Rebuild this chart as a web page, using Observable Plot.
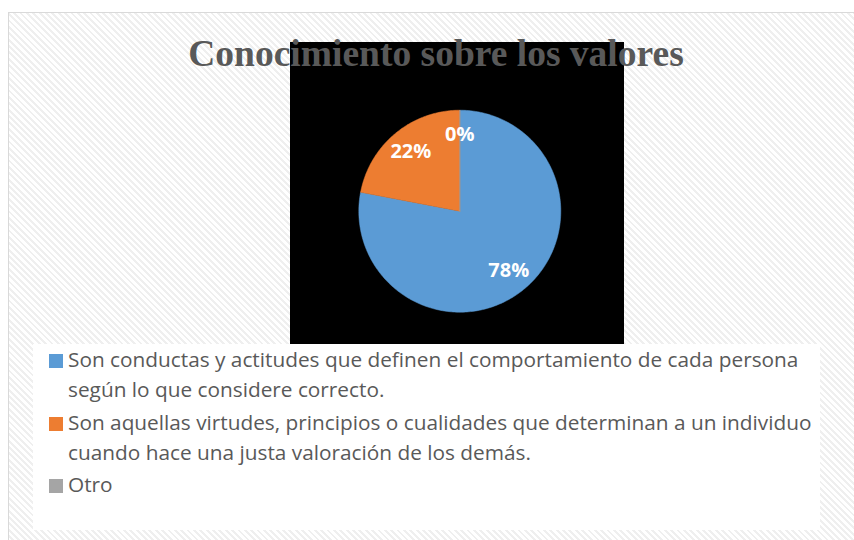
<!DOCTYPE html>
<html>
<head>
<meta charset="utf-8">
<script src="https://cdn.jsdelivr.net/npm/d3@7"></script>
<script src="https://cdn.jsdelivr.net/npm/@observablehq/plot@0.6"></script>
<style>
  html, body { margin: 0; padding: 0; background: #fff; }
  #wrap { position: relative; width: 854px; height: 540px; overflow: hidden; background: #fff; }
  #frame { position: absolute; left: 8px; top: 12px; width: 900px; height: 600px;
    border: 1px solid #d9d9d9; box-sizing: border-box;
    background: repeating-linear-gradient(45deg, #ffffff 0px, #ffffff 2.5px, #efefef 2.5px, #efefef 4.5px); }
  #legendbox { position: absolute; left: 33px; top: 344px; width: 787px; height: 186px; background: #fff; }
  #plot { position: absolute; left: 290px; top: 42px; }
  #title { position: absolute; left: 0; width: 872px; top: 31.5px; text-align: center;
    font-family: "Liberation Serif", "DejaVu Serif", serif; font-weight: bold; font-size: 37.5px;
    color: #595959; line-height: 44px; white-space: nowrap; z-index: 5; }
  .item { position: absolute; left: 49px; font-family: "Open Sans", sans-serif; font-size: 20.8px; color: #595959; }
  .item .sw { position: absolute; left: 0; top: 10px; width: 14px; height: 14px; }
  .item .tx { position: absolute; left: 19px; top: 0; white-space: nowrap; line-height: 30px; }
</style>
</head>
<body>
<div id="wrap">
  <div id="frame"></div>
  <div id="legendbox"></div>
  <div id="plot"></div>
  <div id="title"></div>
  <div id="legend"></div>
</div>
<script>
const title = "Conocimiento sobre los valores";
const categories = [
  "Son conductas y actitudes que definen el comportamiento de cada persona según lo que considere correcto.",
  "Son aquellas virtudes, principios o cualidades que determinan a un individuo cuando hace una justa valoración de los demás.",
  "Otro"
];
const legendLines = [
  ["Son conductas y actitudes que definen el comportamiento de cada persona", "según lo que considere correcto."],
  ["Son aquellas virtudes, principios o cualidades que determinan a un individuo", "cuando hace una justa valoración de los demás."],
  ["Otro"]
];
const values = [78, 22, 0];
const labels = ["78%", "22%", "0%"];
const colors = ["#5B9BD5", "#ED7D31", "#A5A5A5"];

document.getElementById("title").textContent = title;

// Build slice polygons in data space (unit circle), start at top, clockwise
const total = d3.sum(values);
const pts = [];
const labelData = [];
let acc = 0;
categories.forEach((c, i) => {
  const a0 = acc / total * 2 * Math.PI;
  acc += values[i];
  const a1 = acc / total * 2 * Math.PI;
  pts.push({cat: c, x: 0, y: 0});
  const n = Math.max(1, Math.ceil((a1 - a0) / (Math.PI / 180)));
  for (let k = 0; k <= n; k++) {
    const a = a0 + (a1 - a0) * k / n;
    pts.push({cat: c, x: Math.sin(a), y: Math.cos(a)});
  }
  pts.push({cat: c, x: 0, y: 0});
  const am = (a0 + a1) / 2;
  labelData.push({cat: c, text: labels[i], x: 0.76 * Math.sin(am), y: 0.76 * Math.cos(am)});
});

const chart = Plot.plot({
  width: 334,
  height: 302,
  margin: 0,
  style: {background: "#000", overflow: "visible"},
  x: {domain: [-1, 1], range: [68.3, 270.3], axis: null},
  y: {domain: [-1, 1], range: [269.7, 67.7], axis: null},
  color: {domain: categories, range: colors},
  marks: [
    Plot.line(pts, {x: "x", y: "y", z: "cat", fill: "cat", stroke: "cat", strokeWidth: 0.5}),
    Plot.text(labelData, {x: "x", y: "y", text: "text", fill: "#fff", fontWeight: "bold",
      fontSize: 20, fontFamily: "Open Sans, sans-serif"})
  ]
});
document.getElementById("plot").appendChild(chart);

// Legend
const tops = [344, 407, 469];
const legend = document.getElementById("legend");
legendLines.forEach((lines, i) => {
  const it = document.createElement("div");
  it.className = "item";
  it.style.top = tops[i] + "px";
  const sw = document.createElement("div");
  sw.className = "sw";
  sw.style.background = colors[i];
  const tx = document.createElement("div");
  tx.className = "tx";
  tx.innerHTML = lines.map(l => l.replace(/&/g, "&amp;")).join("<br>");
  it.appendChild(sw);
  it.appendChild(tx);
  legend.appendChild(it);
});
</script>
</body>
</html>
